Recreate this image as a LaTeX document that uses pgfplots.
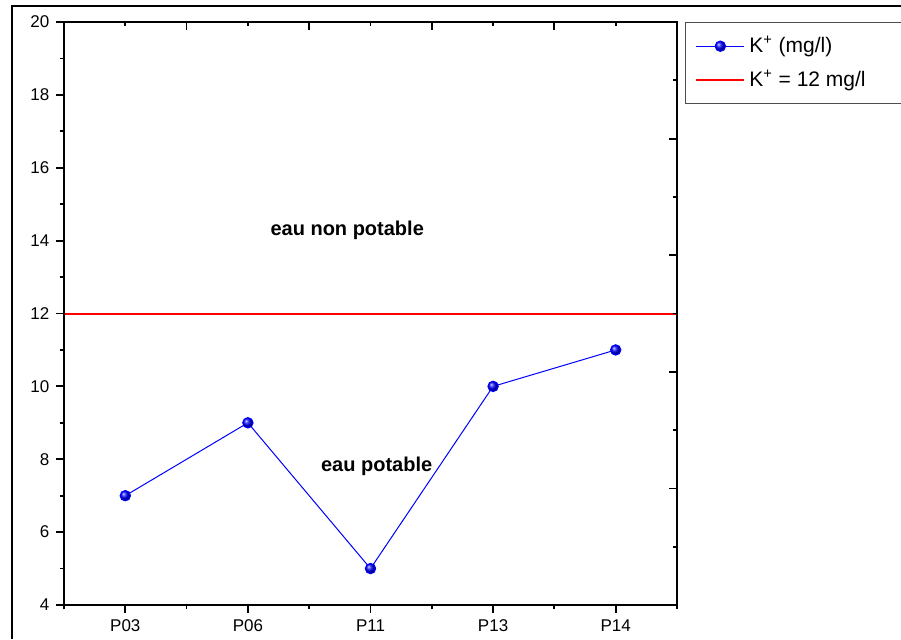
\documentclass[border=0pt]{standalone}
\usepackage{fontspec}
\setmainfont{Liberation Sans}
\usepackage{pgfplots}
\pgfplotsset{compat=1.18}
\begin{document}
\begin{tikzpicture}
\useasboundingbox (0,0) rectangle (450.5pt,319.5pt);
\fill[white] (0,0) rectangle (450.5pt,319.5pt);
\draw[line width=1.1pt] (6pt,0) -- (6pt,316.5pt) -- (451pt,316.5pt);
\begin{axis}[
  name=main,
  at={(32pt,17pt)}, anchor=south west,
  width=306.5pt, height=291.5pt, scale only axis,
  xmin=0.5, xmax=5.5, ymin=4, ymax=20,
  xtick={1,2,3,4,5},
  xticklabels={P03,P06,P11,P13,P14},
  minor xtick={0.5,1.5,2.5,3.5,4.5,5.5},
  ytick={4,6,8,10,12,14,16,18,20},
  minor ytick={5,7,9,11,13,15,17,19},
  tick pos=left, tick align=outside,
  major tick length=3.8pt, minor tick length=2.2pt,
  every tick/.style={black, line width=0.9pt},
  axis line style={line width=1pt},
  /pgf/number format/assume math mode=true,
  ticklabel style={font=\fontsize{8.5}{10}\selectfont},
  legend style={at={(axis description cs:1.013,1)}, anchor=north west,
    draw=black!70, line width=0.5pt, font=\fontsize{10.5}{12}\selectfont,
    row sep=3pt, inner xsep=5pt, inner ysep=5pt},
  legend cell align=left,
  legend image code/.code={
    \draw[mark repeat=2,mark phase=2,#1] plot coordinates {(0cm,0cm) (0.42cm,0cm) (0.84cm,0cm)};},
]
\addplot[blue, line width=0.5pt, mark=ball, mark size=2.6pt, mark options={ball color=blue}]
  coordinates {(1,7) (2,9) (3,5) (4,10) (5,11)};
\addlegendentry{\makebox[70pt][l]{K\textsuperscript{+} (mg/l)}}
\addplot[red, line width=1pt] coordinates {(0.5,12) (5.5,12)};
\addlegendentry{\makebox[70pt][l]{K\textsuperscript{+} = 12 mg/l}}
\node[font=\bfseries\fontsize{10}{12}\selectfont] at (axis cs:2.81,14.28) {eau non potable};
\node[font=\bfseries\fontsize{10}{12}\selectfont] at (axis cs:3.05,7.8) {eau potable};
\end{axis}
\begin{axis}[
  at={(32pt,17pt)}, anchor=south west,
  width=306.5pt, height=291.5pt, scale only axis,
  xmin=0.5, xmax=5.5, ymin=4, ymax=20,
  xtick={0.5,1.5,2.5,3.5,4.5,5.5},
  minor xtick={1,2,3,4,5},
  ytick={4,7.2,10.4,13.6,16.8,20},
  minor ytick={5.6,8.8,12,15.2,18.4},
  xticklabels={}, yticklabels={},
  tick pos=right, tick align=inside,
  major tick length=3.8pt, minor tick length=2.2pt,
  every tick/.style={black, line width=0.9pt},
  axis line style={line width=1pt},
]
\end{axis}
\end{tikzpicture}
\end{document}
